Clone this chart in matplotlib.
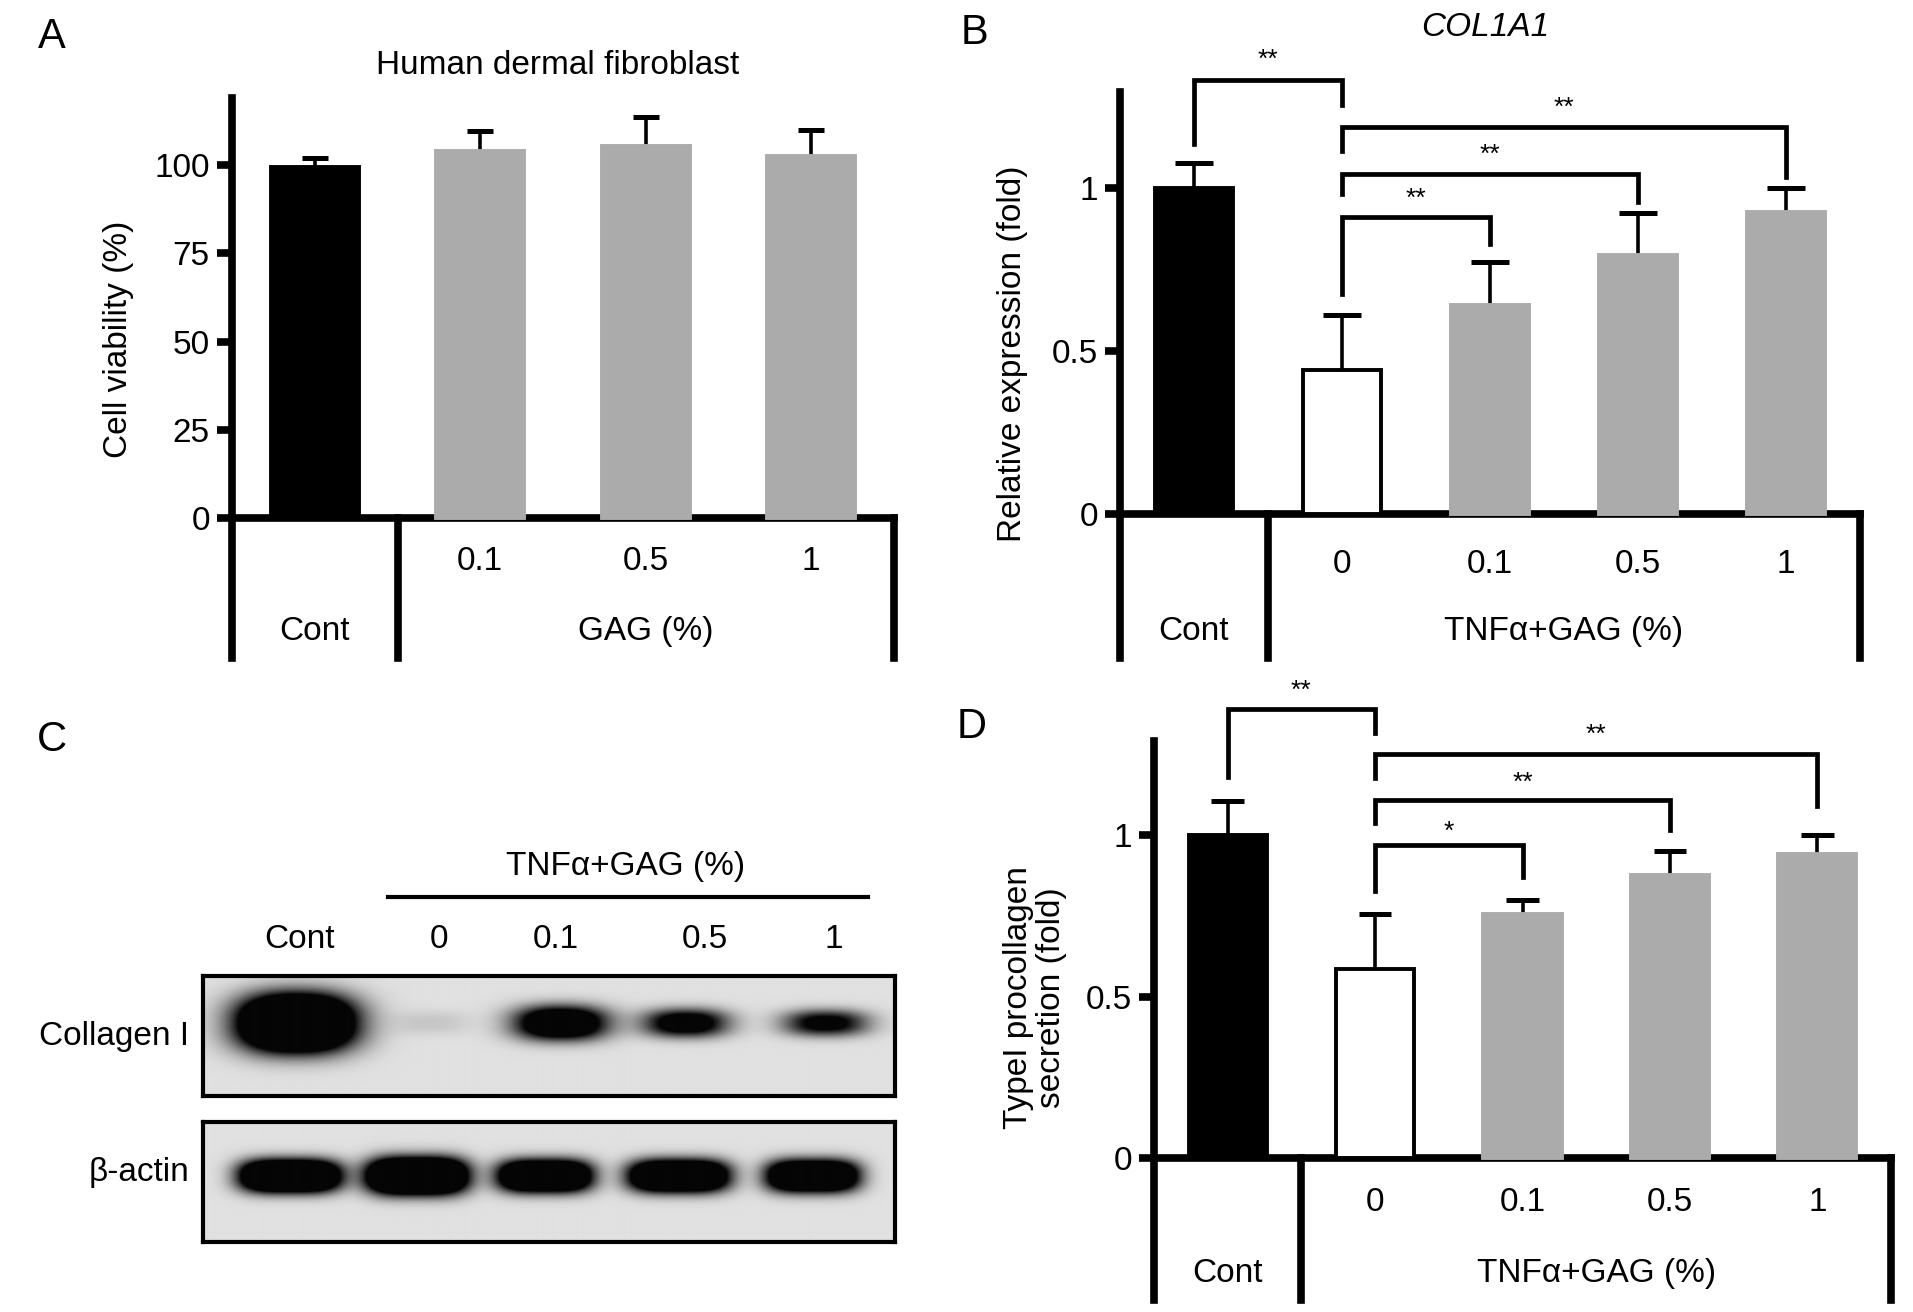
#   Imports    #
import numpy as np
import matplotlib
matplotlib.use('Agg')
import matplotlib.pyplot as plt

plt.rcParams['font.family'] = ['Liberation Sans', 'DejaVu Sans']


##  Data   ##

#   Panel A: cell viability   #
a_groups = ['Cont', '0.1', '0.5', '1']
a_viability = [99.5, 104.1, 105.3, 102.7]
a_viability_err = [2.6, 5.5, 8.3, 7.2]

#   Panel B: COL1A1 relative expression   #
b_groups = ['Cont', '0', '0.1', '0.5', '1']
b_col1a1 = [1.0, 0.443, 0.64, 0.793, 0.927]
b_col1a1_err = [0.076, 0.166, 0.133, 0.131, 0.073]
b_sig = [(0, 1, '**'), (1, 4, '**'), (1, 3, '**'), (1, 2, '**')]

#   Panel C: western blot band signal   #
c_lanes = ['Cont', '0', '0.1', '0.5', '1']
c_collagen = [3.0, 0.12, 1.8, 1.4, 1.2]
c_actin = [2.6, 2.8, 2.4, 2.4, 2.3]

#   Panel D: type I procollagen secretion   #
d_groups = ['Cont', '0', '0.1', '0.5', '1']
d_procollagen = [1.0, 0.587, 0.757, 0.878, 0.941]
d_procollagen_err = [0.107, 0.168, 0.043, 0.073, 0.059]
d_sig = [(0, 1, '**'), (1, 4, '**'), (1, 3, '**'), (1, 2, '*')]


##  Layout   ##

W, H = 1913, 1312
BLACK, WHITE, GRAY = 'black', 'white', '#ababab'
FS = 24
LW_AX = 5.5
TNF = 'TNFα+GAG (%)'

fig = plt.figure(figsize=(W / 100, H / 100), dpi=100)


def add_ax(x0, y0, x1, y1):
    return fig.add_axes([x0 / W, 1 - y1 / H, (x1 - x0) / W, (y1 - y0) / H])


def fig_text(x, y, s, **kw):
    fig.text(x / W, 1 - y / H, s, **kw)


#   Bar chart with the grouped axis below   #
def bar_panel(rect, values, errors, faces, ylim, yticks, yticklabels, cap_hw,
              groups, group_label, row1, row2):

    ax = add_ax(*rect)
    n = len(values)
    x = np.arange(n)
    values = np.array(values)
    top = values + np.array(errors)

    edges = [BLACK if f == WHITE else f for f in faces]
    ax.bar(x, values, width=0.53, color=faces, edgecolor=edges, linewidth=2.8, zorder=3)
    ax.vlines(x, values, top, color='k', lw=2.6, zorder=2)
    ax.hlines(top, x - cap_hw, x + cap_hw, color='k', lw=3.6, zorder=2)

    ax.set_xlim(-0.5, n - 0.5)
    ax.set_ylim(*ylim)
    for s in ['top', 'right', 'bottom']:
        ax.spines[s].set_visible(False)
    ax.spines['left'].set_linewidth(LW_AX)
    ax.set_xticks([])
    ax.set_yticks(yticks)
    ax.set_yticklabels(yticklabels)
    ax.tick_params(axis='y', length=11, width=LW_AX, labelsize=FS, pad=5)

    #   Baseline and group dividers   #
    kw = dict(color='k', lw=LW_AX, clip_on=False, solid_capstyle='projecting')
    ax.plot([-0.5, n - 0.5], [0, 0], **kw)
    ax.plot([0.5, 0.5], [0, ylim[0]], **kw)
    ax.plot([n - 0.5, n - 0.5], [0, ylim[0]], **kw)

    for i, g in enumerate(groups[1:], start=1):
        ax.text(i, row1, g, ha='center', va='center', fontsize=FS)
    ax.text(0, row2, groups[0], ha='center', va='center', fontsize=FS)
    ax.text(n / 2, row2, group_label, ha='center', va='center', fontsize=FS)
    return ax


def brackets(ax, sig, geom, star_fs=19):
    for (i, j, star), (y, yl, yr, ys) in zip(sig, geom):
        ax.plot([i, i, j, j], [yl, y, y, yr], color='k', lw=3.4, clip_on=False,
                solid_joinstyle='miter')
        ax.text((i + j) / 2, ys, star, ha='center', va='center', fontsize=star_fs)


#   Panel A   #
ax_a = bar_panel((232, 98, 894, 658), a_viability, a_viability_err,
                 [BLACK, GRAY, GRAY, GRAY], (-39.5, 119), [0, 25, 50, 75, 100],
                 ['0', '25', '50', '75', '100'], 0.08, a_groups, 'GAG (%)', -12.3, -32.1)
fig_text(118, 339, 'Cell viability (%)', rotation=90, ha='center', va='center', fontsize=FS)
fig_text(558, 65, 'Human dermal fibroblast', ha='center', va='center', fontsize=FS)

#   Panel B   #
ax_b = bar_panel((1120, 92, 1860, 658), b_col1a1, b_col1a1_err,
                 [BLACK, WHITE, GRAY, GRAY, GRAY], (-0.44, 1.293), [0, 0.5, 1],
                 ['0', '0.5', '1'], 0.13, b_groups, TNF, -0.153, -0.36)
brackets(ax_b, b_sig, [(1.331, 1.133, 1.253, 1.39),
                       (1.187, 1.113, 1.033, 1.243),
                       (1.043, 0.98, 0.957, 1.10),
                       (0.911, 0.673, 0.829, 0.967)])
fig_text(1012, 354, 'Relative expression (fold)', rotation=90, ha='center', va='center', fontsize=FS)
fig_text(1485, 27, 'COL1A1', ha='center', va='center', fontsize=FS, style='italic')

#   Panel D   #
ax_d = bar_panel((1154, 741, 1891, 1300), d_procollagen, d_procollagen_err,
                 [BLACK, WHITE, GRAY, GRAY, GRAY], (-0.44, 1.292), [0, 0.5, 1],
                 ['0', '0.5', '1'], 0.11, d_groups, TNF, -0.138, -0.358)
brackets(ax_d, d_sig, [(1.39, 1.182, 1.317, 1.447),
                       (1.251, 1.176, 1.092, 1.31),
                       (1.110, 1.038, 1.016, 1.162),
                       (0.969, 0.828, 0.872, 1.012)])
fig_text(1035, 998, 'TypeI procollagen\nsecretion (fold)', rotation=90, ha='center',
         va='center', fontsize=FS, multialignment='center', linespacing=1.05)


#   Panel C: blot   #
def blot(y0, y1, signal, centers, half_w, half_h, yc, px=2.4):
    ax = add_ax(203, y0, 895, y1)
    bw, bh = 692, y1 - y0
    xx, yy = np.meshgrid(np.linspace(0, bw, 700), np.linspace(0, bh, 120))
    dark = np.zeros_like(xx)
    for s, xc, hw, hh in zip(signal, centers, half_w, half_h):
        dark += s * np.exp(-np.abs((xx - xc) / hw) ** px - np.abs((yy - yc) / hh) ** 2.4)
    bg = 0.88
    img = bg - np.clip(dark, 0, 1) * (bg - 0.02)
    ax.imshow(img, cmap='gray', vmin=0, vmax=1, aspect='auto',
              extent=(0, bw, bh, 0), interpolation='bilinear')
    ax.set_xticks([])
    ax.set_yticks([])
    for s in ax.spines.values():
        s.set_linewidth(3)
    return ax


blot(976, 1096, c_collagen, [93, 228, 358, 483, 623], [56, 40, 46, 42, 42],
     [28, 12, 17, 14, 13], 47)
blot(1122, 1242, c_actin, [87, 214, 342, 476, 610], [50, 50, 47, 50, 46],
     [16, 18, 16, 16, 16], 54, px=3.5)

lane_x = [300, 439, 556, 705, 834]
for lx, lab in zip(lane_x, c_lanes):
    fig_text(lx, 939, lab, ha='center', va='center', fontsize=FS)
fig_text(626, 866, TNF, ha='center', va='center', fontsize=FS)
fig.add_artist(plt.Line2D([388 / W, 868 / W], [1 - 897 / H, 1 - 897 / H], color='k', lw=3))
fig_text(189, 1036, 'Collagen I', ha='right', va='center', fontsize=FS)
fig_text(189, 1172, 'β-actin', ha='right', va='center', fontsize=FS)

#   Panel letters   #
for (lx, ly), letter in zip([(52, 37), (975, 33), (52, 740), (972, 727)], 'ABCD'):
    fig_text(lx, ly, letter, ha='center', va='center', fontsize=30)

fig.savefig('out.png', dpi=100)
